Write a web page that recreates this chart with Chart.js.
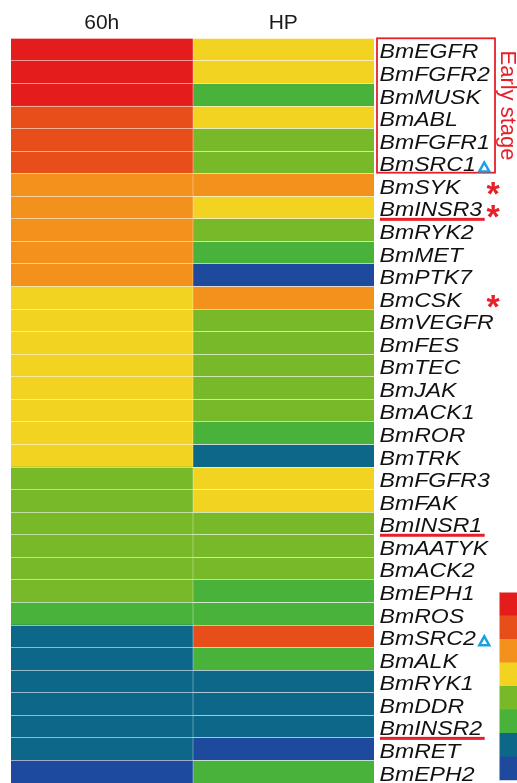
<!DOCTYPE html>
<html>
<head>
<meta charset="utf-8">
<script src="https://cdn.jsdelivr.net/npm/chart.js@4/dist/chart.umd.min.js"></script>
<style>
  html, body { margin: 0; padding: 0; background: #fff; }
  canvas { display: block; }
</style>
</head>
<body>
<canvas id="heat" width="517" height="783"></canvas>
<script>
// Sampling points (columns) and tyrosine kinase genes (rows)
const columns = ['60h', 'HP'];
const genes = [
  'BmEGFR', 'BmFGFR2', 'BmMUSK', 'BmABL', 'BmFGFR1', 'BmSRC1', 'BmSYK', 'BmINSR3',
  'BmRYK2', 'BmMET', 'BmPTK7', 'BmCSK', 'BmVEGFR', 'BmFES', 'BmTEC', 'BmJAK',
  'BmACK1', 'BmROR', 'BmTRK', 'BmFGFR3', 'BmFAK', 'BmINSR1', 'BmAATYK', 'BmACK2',
  'BmEPH1', 'BmROS', 'BmSRC2', 'BmALK', 'BmRYK1', 'BmDDR', 'BmINSR2', 'BmRET', 'BmEPH2'
];

// Expression level per gene (1 = lowest, 8 = highest)
const level60h = [8, 8, 8, 7, 7, 7, 6, 6, 6, 6, 6, 5, 5, 5, 5, 5, 5, 5, 5, 4, 4, 4, 4, 4, 4, 3, 2, 2, 2, 2, 2, 2, 1];
const levelHP  = [5, 5, 3, 5, 4, 4, 6, 5, 4, 3, 1, 6, 4, 4, 4, 4, 4, 3, 2, 5, 5, 4, 4, 4, 3, 3, 7, 3, 2, 2, 2, 1, 3];

// Colour key, from level 8 down to level 1
const levelColors = ['#E41D1C', '#E84E1A', '#F2921D', '#F3D322', '#78B929', '#49B23A', '#0D6789', '#1E4A9D'];

// Gene groupings and marks
const earlyStage = ['BmEGFR', 'BmFGFR2', 'BmMUSK', 'BmABL', 'BmFGFR1', 'BmSRC1'];
const starred = ['BmSYK', 'BmINSR3', 'BmCSK'];
const triangled = ['BmSRC1', 'BmSRC2'];
const underlined = ['BmINSR3', 'BmINSR1', 'BmINSR2'];

const colorFor = v => levelColors[8 - v];
const FONT = "'Liberation Sans', Arial, sans-serif";
const RED = '#E6202A';
const STRETCH = 1.1;

// Category scale whose labels are drawn slightly wider than the font
const BaseCategory = Chart.registry.getScale('category');
class WideCategoryScale extends BaseCategory {
  drawLabels(area) {
    const ctx = this.ctx;
    ctx.save();
    ctx.translate(this.left, 3);
    ctx.scale(STRETCH, 1);
    ctx.translate(-this.left, 0);
    super.drawLabels(area);
    ctx.restore();
  }
}
WideCategoryScale.id = 'wideCategory';
WideCategoryScale.defaults = BaseCategory.defaults;
Chart.register(WideCategoryScale);

// Marks around the gene labels and the colour key
const marksPlugin = {
  id: 'marks',
  afterDraw(chart) {
    const ctx = chart.ctx;
    const y = chart.scales.y;
    const area = chart.chartArea;
    const labelX = area.right + 5;
    const half = (y.getPixelForValue(1) - y.getPixelForValue(0)) / 2;
    const rowC = name => y.getPixelForValue(genes.indexOf(name));
    ctx.save();
    ctx.font = `italic 21px ${FONT}`;
    const textW = name => ctx.measureText(name).width * STRETCH;

    // Early-stage box
    const top = rowC(earlyStage[0]) - half;
    const bot = rowC(earlyStage[earlyStage.length - 1]) + half - 1;
    ctx.strokeStyle = RED;
    ctx.lineWidth = 1.8;
    ctx.strokeRect(area.right + 3, top, 118, bot - top);

    // Underlines
    ctx.fillStyle = RED;
    underlined.forEach(name => {
      const yy = rowC(name) + half;
      ctx.fillRect(labelX + 1, yy - 1, textW(name) + 2, 3);
    });

    // Triangles
    ctx.strokeStyle = '#1AA0E2';
    ctx.lineWidth = 2.4;
    ctx.lineJoin = 'miter';
    triangled.forEach(name => {
      const x0 = labelX + textW(name) + 4;
      const yb = rowC(name) + 9;
      ctx.beginPath();
      ctx.moveTo(x0, yb);
      ctx.lineTo(x0 + 10, yb);
      ctx.lineTo(x0 + 5, yb - 9);
      ctx.closePath();
      ctx.stroke();
    });

    // Asterisks
    ctx.fillStyle = RED;
    ctx.font = `bold 34px ${FONT}`;
    ctx.textAlign = 'center';
    ctx.textBaseline = 'middle';
    starred.forEach(name => {
      ctx.fillText('*', 493, rowC(name) + 11);
    });

    // Vertical "Early stage" label
    ctx.save();
    ctx.translate(507, (top + bot) / 2);
    ctx.rotate(Math.PI / 2);
    ctx.font = `22px ${FONT}`;
    ctx.fillStyle = RED;
    ctx.textAlign = 'center';
    ctx.textBaseline = 'middle';
    ctx.fillText('Early stage', 0, 0);
    ctx.restore();

    // Colour key
    const kx = 499, ky = 592, kh = 23.5;
    levelColors.forEach((c, i) => {
      ctx.fillStyle = c;
      ctx.fillRect(kx, ky + i * kh, 20, kh + 0.5);
    });
    ctx.strokeStyle = 'rgba(255,255,255,0.5)';
    ctx.lineWidth = 1;
    ctx.strokeRect(kx + 0.5, ky + 0.5, 20, levelColors.length * kh);
    ctx.restore();
  }
};

new Chart(document.getElementById('heat'), {
  type: 'bar',
  data: {
    labels: genes,
    datasets: [
      {
        label: columns[0],
        data: genes.map(() => [0, 1]),
        backgroundColor: level60h.map(colorFor),
        borderWidth: 0,
        grouped: false
      },
      {
        label: columns[1],
        data: genes.map(() => [1, 2]),
        backgroundColor: levelHP.map(colorFor),
        borderColor: 'rgba(255,255,255,0.45)',
        borderWidth: { left: 1, top: 0, right: 0, bottom: 0 },
        borderSkipped: false,
        grouped: false
      }
    ]
  },
  options: {
    indexAxis: 'y',
    responsive: false,
    animation: false,
    devicePixelRatio: 1,
    layout: { autoPadding: false, padding: { left: 11, right: 0, top: 0, bottom: 0 } },
    barPercentage: 1,
    categoryPercentage: 1,
    plugins: {
      legend: { display: false },
      tooltip: { enabled: false }
    },
    scales: {
      x: {
        type: 'linear',
        position: 'top',
        min: 0,
        max: 2,
        grid: { display: false, drawTicks: false },
        border: { display: false },
        afterFit(scale) { scale.height = 38.3; },
        afterBuildTicks(scale) { scale.ticks = columns.map((c, i) => ({ value: i + 0.5 })); },
        ticks: {
          autoSkip: false,
          padding: 2,
          color: '#1a1a1a',
          font: { family: FONT, size: 21 },
          callback: (v) => columns[Math.floor(v)]
        }
      },
      y: {
        type: 'wideCategory',
        position: 'right',
        offset: true,
        grid: {
          offset: true,
          drawTicks: false,
          color: 'rgba(255,255,255,0.55)',
          lineWidth: 1,
          z: 1
        },
        border: { display: false },
        afterFit(scale) {
          scale.width = 143;
          scale.paddingTop = 0;
          scale.paddingBottom = 0;
        },
        ticks: {
          autoSkip: false,
          padding: 5,
          crossAlign: 'near',
          color: '#111',
          font: { family: FONT, size: 21, style: 'italic' }
        }
      }
    }
  },
  plugins: [marksPlugin]
});
</script>
</body>
</html>
